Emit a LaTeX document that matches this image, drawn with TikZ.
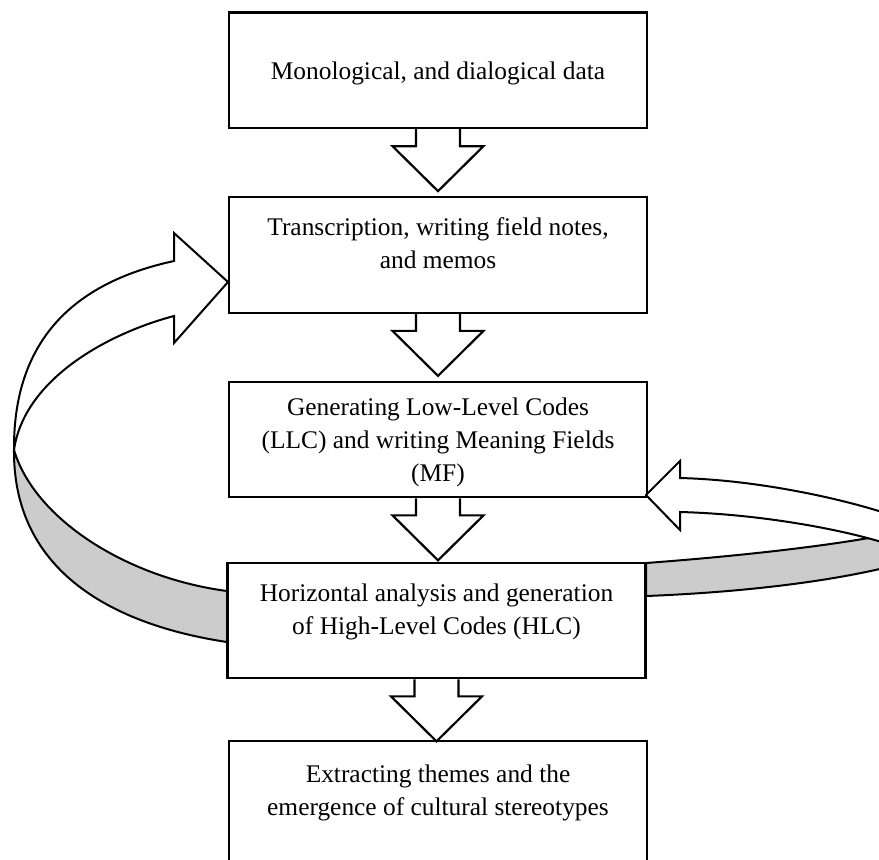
\documentclass[tikz,border=0pt]{standalone}
\usepackage{fontspec}
\setmainfont{Liberation Serif}
\usetikzlibrary{calc}
\definecolor{bandgray}{HTML}{CCCCCC}
% feedback bands, drawn in pixel units
\def\leftback{(14,450) .. controls (13,580) and (127,627) .. (227,642) -- (227,591) .. controls (128,578) and (35,520) .. (14,450) -- cycle}
\def\leftfront{(174,261) -- (174,233) -- (228,282) -- (174,343) -- (174,316) .. controls (106,334) and (24,380) .. (14,450) .. controls (13,330) and (86,280) .. (174,261) -- cycle}
\def\rightback{(646,563) .. controls (740,556) and (840,545) .. (900,532) -- (900,564) .. controls (840,580) and (750,592) .. (646,596) -- cycle}
\def\rightfront{(680,478) -- (680,461) -- (646,495) -- (680,530) -- (680,512) .. controls (760,514) and (850,530) .. (900,548) -- (900,518) .. controls (850,500) and (760,480) .. (680,478) -- cycle}
\newcommand{\stagearrow}[1]{%
    \draw[blockarrow] ($(#1.south)+(-22,0)$) -- ++(0,17) -- ++(-23.5,0) -- ++(45.5,45) -- ++(45.5,-45) -- ++(-23.5,0) -- ++(0,-17);}

\begin{document}
\begin{tikzpicture}[x=0.5pt,y=-0.5pt,
    stagebox/.style={draw, line width=1.1pt, minimum width=209pt, minimum height=57.75pt,
        inner sep=0pt, align=center, font=\fontsize{12.7}{16.5}\selectfont},
    blockarrow/.style={draw, line width=1.1pt, line join=miter},
    band/.style={draw, line width=1pt}]
    \useasboundingbox (0,0) rectangle (879,859);
    \clip (0,0) rectangle (879,859);
    \node[stagebox, text depth=0pt] (data) at (438,70.3) {Monological, and dialogical data};
    \node[stagebox, text depth=12pt] (transcr) at (438,255) {Transcription, writing field notes,\\ and memos};
    \node[stagebox, text depth=0pt] (llc) at (438,439.5) {Generating Low-Level Codes\\ (LLC) and writing Meaning Fields\\ (MF)};
    \node[stagebox, text depth=11pt] (hlc) at (436.5,620.5) {Horizontal analysis and generation\\ of High-Level Codes (HLC)};
    \node[stagebox, minimum height=65pt, text depth=16pt] (themes) at (438,806) {Extracting themes and the\\ emergence of cultural stereotypes};
    \draw[band, fill=bandgray] \leftback;
    \draw[band, fill=white] \leftfront;
    \draw[band, fill=bandgray] \rightback;
    \draw[band, fill=white] \rightfront;
    \stagearrow{data}
    \stagearrow{transcr}
    \stagearrow{llc}
    \stagearrow{hlc}
\end{tikzpicture}
\end{document}
